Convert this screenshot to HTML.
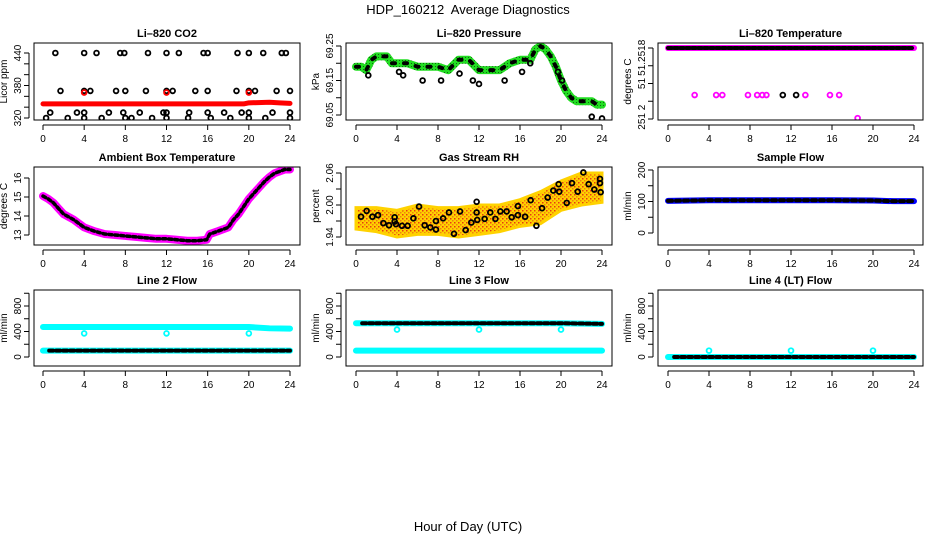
<!DOCTYPE html>
<html><head><meta charset="utf-8">
<style>
html,body{margin:0;padding:0;background:#fff;}
svg{display:block;font-family:"Liberation Sans",sans-serif;}
.ttl{font-weight:bold;font-size:11px;}
.tk{font-size:10px;}
</style></head>
<body>
<svg id="chart" width="936" height="540" viewBox="0 0 936 540">
<defs>
<pattern id="rhpat" width="4" height="4" patternUnits="userSpaceOnUse">
<rect width="4" height="4" fill="#ffd200"/><rect width="1.5" height="1.5" fill="#f08010"/><rect x="2" y="2" width="1.5" height="1.5" fill="#e83a10"/>
</pattern>
<pattern id="grpat" width="3" height="3" patternUnits="userSpaceOnUse">
<rect width="3" height="3" fill="#22dd22"/><rect width="1" height="1" fill="#116611"/>
</pattern>
</defs>
<text x="468" y="14" text-anchor="middle" font-size="13">HDP_160212&#160; Average Diagnostics</text>
<text x="468" y="531" text-anchor="middle" font-size="13">Hour of Day (UTC)</text>
<g id="plots"></g>
</svg>
<script>
// ---- data ----
const xTicks = [0,4,8,12,16,20,24];
// CO2
const co2BandHours = [0,4,8,12,16,19.5,20,22,23,24];
const co2BandVals = [346,346,346,346,346,346,348,349,348,347];
const co2OutHours = [1.2,4,5.2,7.5,7.9,10.2,12,13.2,15.6,16,18.9,20,21.4,23.2,23.6, 1.7,4,4.6,7.1,8,10,12,12.6,14.8,16,18.8,20,20.6,22.7,24, 0.7,3.3,4,6.4,7.8,9.4,11.7,12,14.2,16,17.6,19.3,20,22.3,24, 0.3,2.4,4,5.7,8,8.6,10.6,12,14.1,16.3,18.2,20,21.6,24];
const co2OutVals = [440,440,440,440,440,440,440,440,440,440,440,440,440,440,440, 370,370,370,370,370,370,370,370,370,370,370,370,370,370,370, 330,330,330,330,330,330,330,330,330,330,330,330,330,330,330, 320,320,320,320,320,320,320,320,320,320,320,320,320,320];
// Pressure
const presHours = [0,0.5,1,1.5,2,2.5,3,3.5,4,5,6,7,8,9,10,11,12,13,14,15,16,17,17.5,18,18.5,19,19.5,20,20.5,21,21.5,22,23,23.5,24];
const presVals = [69.19,69.19,69.18,69.21,69.22,69.22,69.22,69.20,69.20,69.20,69.19,69.19,69.19,69.18,69.21,69.21,69.18,69.18,69.18,69.20,69.21,69.21,69.24,69.25,69.24,69.22,69.19,69.15,69.12,69.10,69.09,69.09,69.09,69.08,69.08];
const presOutHours = [1.2,4.2,4.6,6.5,8.3,10.1,11.4,12,14.5,16.2,17,19.7,20.1,23,24];
const presOutVals = [69.165,69.175,69.165,69.15,69.15,69.17,69.15,69.14,69.15,69.175,69.2,69.175,69.15,69.045,69.04];
// Li-820 temperature
const ltHours = [0,24];
const ltVals = [51.2518,51.2518];
const ltDotHours = [2.6,4.7,5.3,7.8,8.7,9.2,9.6,11.2,12.5,13.4,15.8,16.7,18.5];
const ltDotVals = [51.25127,51.25127,51.25127,51.25127,51.25127,51.25127,51.25127,51.25127,51.25127,51.25127,51.25127,51.25127,51.25101];
// Ambient box temperature
const ambHours = [0,0.5,1,1.5,2,3,3.5,4,5,6,7,8,9,10,11,12,13,14,15,15.9,16.2,17,18,18.5,19,19.5,20,20.5,21,21.5,22,22.5,23,23.5,24];
const ambVals = [15.05,14.9,14.7,14.4,14.1,13.8,13.6,13.4,13.2,13.05,13.0,12.95,12.9,12.85,12.8,12.8,12.75,12.7,12.7,12.75,13.05,13.2,13.4,13.8,14.1,14.5,14.9,15.2,15.5,15.8,16.05,16.25,16.35,16.45,16.45];
// Gas stream RH
const rhBandHours = [0,2,4,6,8,10,12,14,16,18,20,22,24];
const rhUpper = [1.995,1.995,1.99,2.0,1.995,1.995,2.0,2.0,2.01,2.025,2.045,2.06,2.06];
const rhLower = [1.955,1.95,1.94,1.945,1.945,1.94,1.945,1.95,1.96,1.965,1.99,2.0,2.005];
const rhPtHours = [0.49,1.04,1.6,2.15,2.67,3.22,3.77,3.77,3.9,4.49,5.04,5.6,6.15,6.7,7.25,7.8,7.8,8.5,9.07,9.56,10.15,10.7,11.25,11.77,11.77,11.83,12.55,13.1,13.6,14.08,14.7,15.19,15.8,15.8,16.5,17.04,17.6,18.15,18.7,19.25,19.77,19.83,20.56,21.07,21.63,22.18,22.7,23.25,23.8,23.8,23.87];
const rhPtVals = [1.978,1.989,1.978,1.981,1.966,1.962,1.977,1.969,1.964,1.961,1.961,1.975,1.997,1.962,1.958,1.970,1.954,1.975,1.986,1.946,1.988,1.953,1.967,2.006,1.986,1.972,1.974,1.986,1.974,1.988,1.988,1.977,1.998,1.981,1.978,2.009,1.961,1.994,2.014,2.027,2.039,2.025,2.004,2.041,2.025,2.061,2.039,2.029,2.049,2.041,2.024];
// Flows
const sfHours = [0,4,8,12,16,20,22,24];
const sfVals = [102,104,104,104,104,103,101,101];
const l2UpHours = [0,20,22,24];
const l2UpVals = [470,470,450,445];
const l2LoHours = [0,24];
const l2LoVals = [100,100];
const l3UpHours = [0,20,24];
const l3UpVals = [530,530,520];
const l3LoVals = [100,100];
const l4Vals = [0,0];
const spikeHours = [4,12,20];
const l2SpikeVals = [370,370,370];
const l3SpikeVals = [430,430,430];
const l4SpikeVals = [100,100,100];
const co2SpikeVals = [367,367,367];
</script>
<script>
const NS="http://www.w3.org/2000/svg";
const root=document.getElementById('plots');
const cols=[{l:34,r:300,x0:43,x1:290},{l:346,r:612,x0:356,x1:602},{l:658,r:923,x0:668,x1:914}];
const rows=[{t:43,b:120},{t:167,b:245},{t:290,b:366}];
function mk(tag,attrs,parent){const e=document.createElementNS(NS,tag);for(const k in attrs)e.setAttribute(k,attrs[k]);(parent||root).appendChild(e);return e;}
function panel(ci,ri,cfg){
  const c=cols[ci],r=rows[ri];
  const g=mk('g',{});
  
  
  const sx=h=>c.x0+(h/24)*(c.x1-c.x0);
  const sy=v=>cfg.p0+(v-cfg.v0)/(cfg.v1-cfg.v0)*(cfg.p1-cfg.p0);
  const clipId='clip'+ci+ri;
  const cp=mk('clipPath',{id:clipId},g);mk('rect',{x:c.l,y:r.t,width:c.r-c.l,height:r.b-r.t},cp);
  const pg=mk('g',{'clip-path':'url(#'+clipId+')'},g);
  cfg.draw(pg,sx,sy);
  const box=mk('rect',{x:c.l,y:r.t,width:c.r-c.l,height:r.b-r.t,fill:'none',stroke:'#000','stroke-width':1},g);
  
  
  const xa=mk('g',{},g);
  
  
  mk('line',{x1:sx(0),x2:sx(24),y1:r.b+5,y2:r.b+5,stroke:'#000'},xa);
  xTicks.forEach(t=>{mk('line',{x1:sx(t),x2:sx(t),y1:r.b+5,y2:r.b+10,stroke:'#000'},xa);
    const tx=mk('text',{x:sx(t),y:r.b+22,'text-anchor':'middle',class:'tk'},xa);tx.textContent=t;});
  const ya=mk('g',{},g);
  
  
  const tp=cfg.ticks.map(sy);
  mk('line',{x1:c.l-5,x2:c.l-5,y1:Math.min(...tp),y2:Math.max(...tp),stroke:'#000'},ya);
  cfg.ticks.forEach((t,i)=>{mk('line',{x1:c.l-10,x2:c.l-5,y1:tp[i],y2:tp[i],stroke:'#000'},ya);});
  cfg.labels.forEach(t=>{const y=sy(t[0]);const tx=mk('text',{x:c.l-13,y:y,'text-anchor':'middle',class:'tk',transform:'rotate(-90 '+(c.l-13)+' '+y+')'},ya);tx.textContent=t[1];});
  const yl=mk('text',{x:c.l-27,y:(r.t+r.b)/2,'text-anchor':'middle',class:'tk',transform:'rotate(-90 '+(c.l-27)+' '+((r.t+r.b)/2)+')'},g);
  yl.textContent=cfg.ylab;
  
  
  const tt=mk('text',{x:(c.l+c.r)/2,y:r.t-6,'text-anchor':'middle',class:'ttl'},g);
  tt.textContent=cfg.title;
  
  
}
function band(g,sx,sy,hs,vs,color,w,name,dash){
  const d=hs.map((h,i)=>(i?'L':'M')+sx(h)+' '+sy(vs[i])).join(' ');
  const p=mk('path',{d:d,fill:'none',stroke:color,'stroke-width':w,'stroke-linejoin':'round','stroke-linecap':'round'},g);
  if(dash)p.setAttribute('stroke-dasharray',dash);
  
  
  return p;
}
function pts(g,sx,sy,hs,vs,color,name,fill){
  hs.forEach((h,i)=>{const c=mk('circle',{cx:sx(h),cy:sy(vs[i]),r:2.4,fill:fill||'none',stroke:color,'stroke-width':1.8},g);
    
    });
}
const flowTicks=[0,200,400,600,800,1000];
const flowLabels=[[0,'0'],[400,'400'],[800,'800']];

panel(0,0,{name:'co2',title:'Li\u2013820 CO2',ylab:'Licor ppm',v0:320,v1:440,p0:118,p1:53,ticks:[320,340,360,380,400,420,440],labels:[[320,'320'],[380,'380'],[440,'440']],
 draw:(g,sx,sy)=>{band(g,sx,sy,co2BandHours,co2BandVals,'#ff0000',5,'co2-band');pts(g,sx,sy,co2OutHours,co2OutVals,'#000','co2-outlier');pts(g,sx,sy,spikeHours,co2SpikeVals,'#ff0000','co2-spike');}});
panel(1,0,{name:'pressure',title:'Li\u2013820 Pressure',ylab:'kPa',v0:69.05,v1:69.25,p0:115,p1:46,ticks:[69.05,69.10,69.15,69.20,69.25],labels:[[69.05,'69.05'],[69.15,'69.15'],[69.25,'69.25']],
 draw:(g,sx,sy)=>{band(g,sx,sy,presHours,presVals,'url(#grpat)',8,'pressure-band');band(g,sx,sy,presHours,presVals,'#000',4,'pressure-markers','3 9');pts(g,sx,sy,presOutHours,presOutVals,'#000','pressure-outlier');}});
panel(2,0,{name:'li820-temp',title:'Li\u2013820 Temperature',ylab:'degrees C',v0:51.2518,v1:51.2510,p0:48,p1:119,ticks:[51.2518,51.2516,51.2514,51.2512,51.2510],labels:[[51.25169,'51.2518'],[51.2514,'51'],[51.25102,'251 2']],
 draw:(g,sx,sy)=>{band(g,sx,sy,ltHours,ltVals,'#ff00ff',6,'li820-temp-band');band(g,sx,sy,ltHours,ltVals,'#000',4,'li820-temp-markers','4 2');
   ltDotHours.forEach((h,i)=>pts(g,sx,sy,[h],[ltDotVals[i]],(i==7||i==8)?'#000':'#ff00ff','li820-temp-dot'));}});
panel(0,1,{name:'ambient',title:'Ambient Box Temperature',ylab:'degrees C',v0:13,v1:16,p0:235,p1:178,ticks:[13,14,15,16],labels:[[13,'13'],[14,'14'],[15,'15'],[16,'16']],
 draw:(g,sx,sy)=>{band(g,sx,sy,ambHours,ambVals,'#ff00ff',8,'ambient-band');band(g,sx,sy,ambHours,ambVals,'#000',3.5,'ambient-markers','3 3');}});
panel(1,1,{name:'rh',title:'Gas Stream RH',ylab:'percent',v0:1.94,v1:2.06,p0:237,p1:173,ticks:[1.94,1.97,2.00,2.03,2.06],labels:[[1.94,'1.94'],[2.00,'2.00'],[2.06,'2.06']],
 draw:(g,sx,sy)=>{const d=rhBandHours.map((h,i)=>(i?'L':'M')+sx(h)+' '+sy(rhUpper[i])).join(' ')+' '+rhBandHours.slice().reverse().map((h,i)=>'L'+sx(h)+' '+sy(rhLower[rhLower.length-1-i])).join(' ')+'Z';
   const p=mk('path',{d:d,fill:'url(#rhpat)',stroke:'#ffd200','stroke-width':3},g);
   
   
   pts(g,sx,sy,rhPtHours,rhPtVals,'#000','rh-point');}});
panel(2,1,{name:'sample-flow',title:'Sample Flow',ylab:'ml/min',v0:0,v1:200,p0:233,p1:170,ticks:[0,50,100,150,200],labels:[[0,'0'],[100,'100'],[200,'200']],
 draw:(g,sx,sy)=>{band(g,sx,sy,sfHours,sfVals,'#0000ff',6,'sample-flow-band');band(g,sx,sy,sfHours,sfVals,'#000',4,'sample-flow-markers','4 4');}});
panel(0,2,{name:'line2',title:'Line 2 Flow',ylab:'ml/min',v0:0,v1:800,p0:357,p1:306,ticks:flowTicks,labels:flowLabels,
 draw:(g,sx,sy)=>{band(g,sx,sy,l2UpHours,l2UpVals,'#00ffff',6,'line2-upper');band(g,sx,sy,l2LoHours,l2LoVals,'#00ffff',6,'line2-lower');band(g,sx,sy,[0.6,24],l2LoVals,'#000',4,'line2-markers','4 3');pts(g,sx,sy,spikeHours,l2SpikeVals,'#00ffff','line2-spike');}});
panel(1,2,{name:'line3',title:'Line 3 Flow',ylab:'ml/min',v0:0,v1:800,p0:357,p1:306,ticks:flowTicks,labels:flowLabels,
 draw:(g,sx,sy)=>{band(g,sx,sy,l3UpHours,l3UpVals,'#00ffff',6,'line3-upper');band(g,sx,sy,[0.6,20,24],l3UpVals,'#000',4,'line3-markers','4 3');band(g,sx,sy,l2LoHours,l3LoVals,'#00ffff',6,'line3-lower');pts(g,sx,sy,spikeHours,l3SpikeVals,'#00ffff','line3-spike');}});
panel(2,2,{name:'line4',title:'Line 4 (LT) Flow',ylab:'ml/min',v0:0,v1:800,p0:357,p1:306,ticks:flowTicks,labels:flowLabels,
 draw:(g,sx,sy)=>{band(g,sx,sy,l2LoHours,l4Vals,'#00ffff',6,'line4-band');band(g,sx,sy,[0.6,24],l4Vals,'#000',4,'line4-markers','4 3');pts(g,sx,sy,spikeHours,l4SpikeVals,'#00ffff','line4-spike');}});
</script>
</body></html>
